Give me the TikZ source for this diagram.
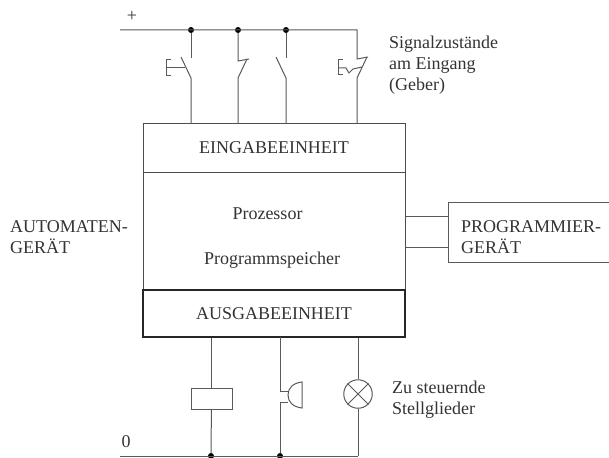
\documentclass[tikz,border=0pt]{standalone}
\usepackage{fontspec}
\setmainfont{Liberation Serif}
\usetikzlibrary{positioning}
\tikzset{
    line/.style={draw=black!65, line width=1pt},
    unitbox/.style={draw=black!70, line width=1pt, minimum width=262pt, inner sep=0pt, text=black!80, font=\fontsize{18pt}{20pt}\selectfont},
    lbl/.style={align=left, anchor=west, inner sep=0pt, text=black!80, font=\fontsize{18pt}{21pt}\selectfont},
    junction/.style={circle, fill=black, inner sep=0pt, minimum size=6pt}
}
\begin{document}
\begin{tikzpicture}[x=1pt,y=-1pt]

\useasboundingbox (0,0) rectangle (609,457);

% Geraet
\node[unitbox, minimum height=48pt] (eingabe) at (274,148) {EINGABEEINHEIT};
\node[unitbox, minimum height=118pt] (cpu) at (274,231) {};
\node[unitbox, minimum height=47pt, draw=black!85, line width=1.8pt] (ausgabe) at (274,313.5) {AUSGABEEINHEIT};

\node[lbl, anchor=center] (prozessor) at (267.5,214) {Prozessor};
\node[lbl, anchor=center] (speicher) at (272,260) {Programmspeicher};
\node[lbl] (automat) at (10,237) {AUTOMATEN-\\GERÄT};
\node[lbl] (eingang) at (389,65) {Signalzustände\\am Eingang\\(Geber)};
\node[lbl] (stell) at (392,400) {Zu steuernde\\Stellglieder};

% Programmiergeraet (rechts abgeschnitten)
\node[draw=black!65, line width=1pt, minimum width=164pt, minimum height=60pt, inner sep=0pt] (prog) at (530,232) {};
\node[lbl] (progtxt) at (461,237) {PROGRAMMIER-\\GERÄT};
\draw[line] (cpu.east |- 0,216) coordinate (ca) -- (ca -| prog.west);
\draw[line] (cpu.east |- 0,247) coordinate (cb) -- (cb -| prog.west);

% Plusleitung
\node[lbl, anchor=center] (plus) at (132,16) {+};
\coordinate (pl) at (120,30);
\coordinate (pr) at (357,30);
\node[junction] (j1) at (191,30) {};
\node[junction] (j2) at (238,30) {};
\node[junction] (j3) at (286,30) {};
\draw[line] (pl) -- (pr) -- (357,59) -- (368,57);

% Schalter 1
\draw[line] (j1) -- (191,58);
\draw[line] (181,57) -- (191,78) -- (191,124);
\draw[line] (185,68) -- (166,68);
\draw[line] (171,60) -- (166,60) -- (166,76) -- (171,76);
% Schalter 2
\draw[line] (j2) -- (238,61) -- (249,59);
\draw[line] (247,59) -- (238,78) -- (238,124);
% Schalter 3
\draw[line] (j3) -- (286,58);
\draw[line] (276,57) -- (286,78) -- (286,124);
% Schalter 4
\draw[line] (367,57) -- (357,78) -- (357,124);
\draw[line] (343,60) -- (338,60) -- (338,75) -- (343,75);
\draw[line] (338,68) -- (346,68) -- (349,73) -- (353,69) -- (362,67);

% Minusleitung
\node[lbl, anchor=center] (null) at (126,442) {0};
\coordinate (ml) at (120,456);
\coordinate (mr) at (358,456);
\node[junction] (j4) at (211,456) {};
\node[junction] (j5) at (280,456) {};
\draw[line] (ml) -- (mr);

% Spule
\node[draw=black!65, line width=1pt, minimum width=41pt, minimum height=21pt, inner sep=0pt] (spule) at (211.5,398.5) {};
\draw[line] (spule.north |- ausgabe.south) -- (spule.north);
\draw[line] (spule) -- (j4);

% Hupe
\draw[line] (280,337) -- (280,391) -- (288,391);
\draw[line] (j5) -- (280,402) -- (288,402);
\draw[line] (302,382) .. controls (293,383) and (288,388) .. (288,395) .. controls (288,402) and (293,407) .. (302,408) -- cycle;

% Lampe
\node[draw=black!65, line width=1pt, circle, minimum size=28.5pt, inner sep=0pt] (lampe) at (358,394) {};
\draw[line] (lampe.45) -- (lampe.225);
\draw[line] (lampe.135) -- (lampe.315);
\draw[line] (lampe.north |- ausgabe.south) -- (lampe.north);
\draw[line] (lampe.south) -- (mr);

\end{tikzpicture}
\end{document}
